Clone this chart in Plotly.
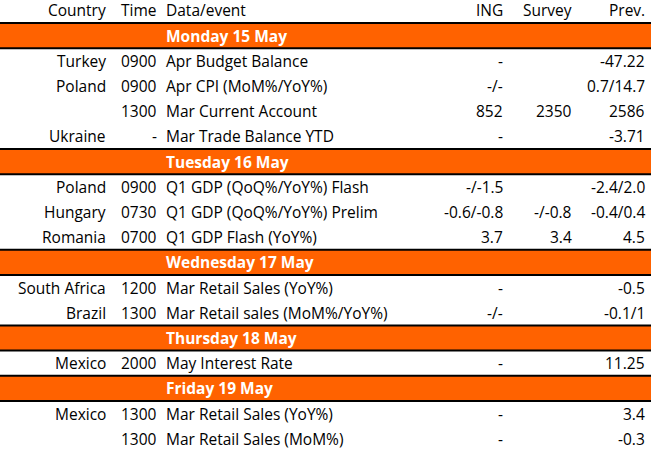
import plotly.graph_objects as go

# ---- data ----
header_labels = ["Country", "Time", "Data/event", "ING", "Survey", "Prev."]
day_labels = ["Monday 15 May", "Tuesday 16 May", "Wednesday 17 May",
              "Thursday 18 May", "Friday 19 May"]
row_day = [0, 0, 0, 0, 1, 1, 1, 2, 2, 3, 4, 4]
country = ["Turkey", "Poland", "", "Ukraine",
           "Poland", "Hungary", "Romania",
           "South Africa", "Brazil",
           "Mexico",
           "Mexico", ""]
time = ["0900", "0900", "1300", "-",
        "0900", "0730", "0700",
        "1200", "1300",
        "2000",
        "1300", "1300"]
event = ["Apr Budget Balance", "Apr CPI (MoM%/YoY%)", "Mar Current Account", "Mar Trade Balance YTD",
         "Q1 GDP (QoQ%/YoY%) Flash", "Q1 GDP (QoQ%/YoY%) Prelim", "Q1 GDP Flash (YoY%)",
         "Mar Retail Sales (YoY%)", "Mar Retail sales (MoM%/YoY%)",
         "May Interest Rate",
         "Mar Retail Sales (YoY%)", "Mar Retail Sales (MoM%)"]
ing = ["-", "-/-", "852", "-",
       "-/-1.5", "-0.6/-0.8", "3.7",
       "-", "-/-",
       "-",
       "-", "-"]
survey = ["", "", "2350", "",
          "", "-/-0.8", "3.4",
          "", "",
          "",
          "", ""]
prev = ["-47.22", "0.7/14.7", "2586", "-3.71",
        "-2.4/2.0", "-0.4/0.4", "4.5",
        "-0.5", "-0.1/1",
        "11.25",
        "3.4", "-0.3"]

# ---- layout params ----
W, H = 651, 454
ORANGE = "#FF6200"
FONT = "Open Sans"
FS = 15.5
col_x = [107, 158, 165, 504, 573, 646]
col_anchor = ["right", "right", "left", "right", "right", "right"]
row_h = 25.2
first_top = 23.0
y_top = 1 - first_top / row_h
y_bot = 1 + (H - first_top) / row_h

# build row sequence: header row 0, then band + events
rows = []  # (kind, index)
prev_day = None
for i, d in enumerate(row_day):
    if d != prev_day:
        rows.append(("day", d))
        prev_day = d
    rows.append(("ev", i))

fig = go.Figure()
fig.add_trace(go.Scatter(x=[0, W], y=[y_top, y_bot], mode="markers",
                         marker=dict(opacity=0), hoverinfo="skip", showlegend=False))

annotations = []
shapes = []

def add_text(x, y, text, anchor, bold=False, color="#000000"):
    annotations.append(dict(x=x, y=y, xref="x", yref="y", text=text,
                            showarrow=False, xanchor=anchor, yanchor="middle",
                            xshift=1 if anchor == "right" else -1,
                            font=dict(family=FONT, size=FS, color=color,
                                      weight="bold" if bold else "normal")))

for c, lab in enumerate(header_labels):
    add_text(col_x[c], 0.5, lab, col_anchor[c], bold=False)

for r, (kind, idx) in enumerate(rows, start=1):
    yc = r + 0.5
    if kind == "day":
        shapes.append(dict(type="rect", xref="x", yref="y", x0=0, x1=W, y0=r, y1=r + 1,
                           fillcolor=ORANGE, line=dict(width=0), layer="below"))
        for yy in (r, r + 1):
            shapes.append(dict(type="line", xref="x", yref="y", x0=0, x1=W, y0=yy, y1=yy,
                               line=dict(color="#000000", width=2)))
        add_text(col_x[2], yc, day_labels[idx], "left", bold=True, color="#FFFFFF")
    else:
        vals = [country[idx], time[idx], event[idx], ing[idx], survey[idx], prev[idx]]
        for c, v in enumerate(vals):
            if v:
                add_text(col_x[c], yc, v, col_anchor[c])

fig.update_layout(
    width=W, height=H,
    margin=dict(l=0, r=0, t=0, b=0),
    paper_bgcolor="white", plot_bgcolor="white",
    xaxis=dict(range=[0, W], visible=False, fixedrange=True),
    yaxis=dict(range=[y_bot, y_top], visible=False, fixedrange=True),
    annotations=annotations, shapes=shapes,
)
fig.write_html("out.html", config={"displayModeBar": False},
               post_script="document.body.style.margin='0';document.body.style.overflow='hidden';")
